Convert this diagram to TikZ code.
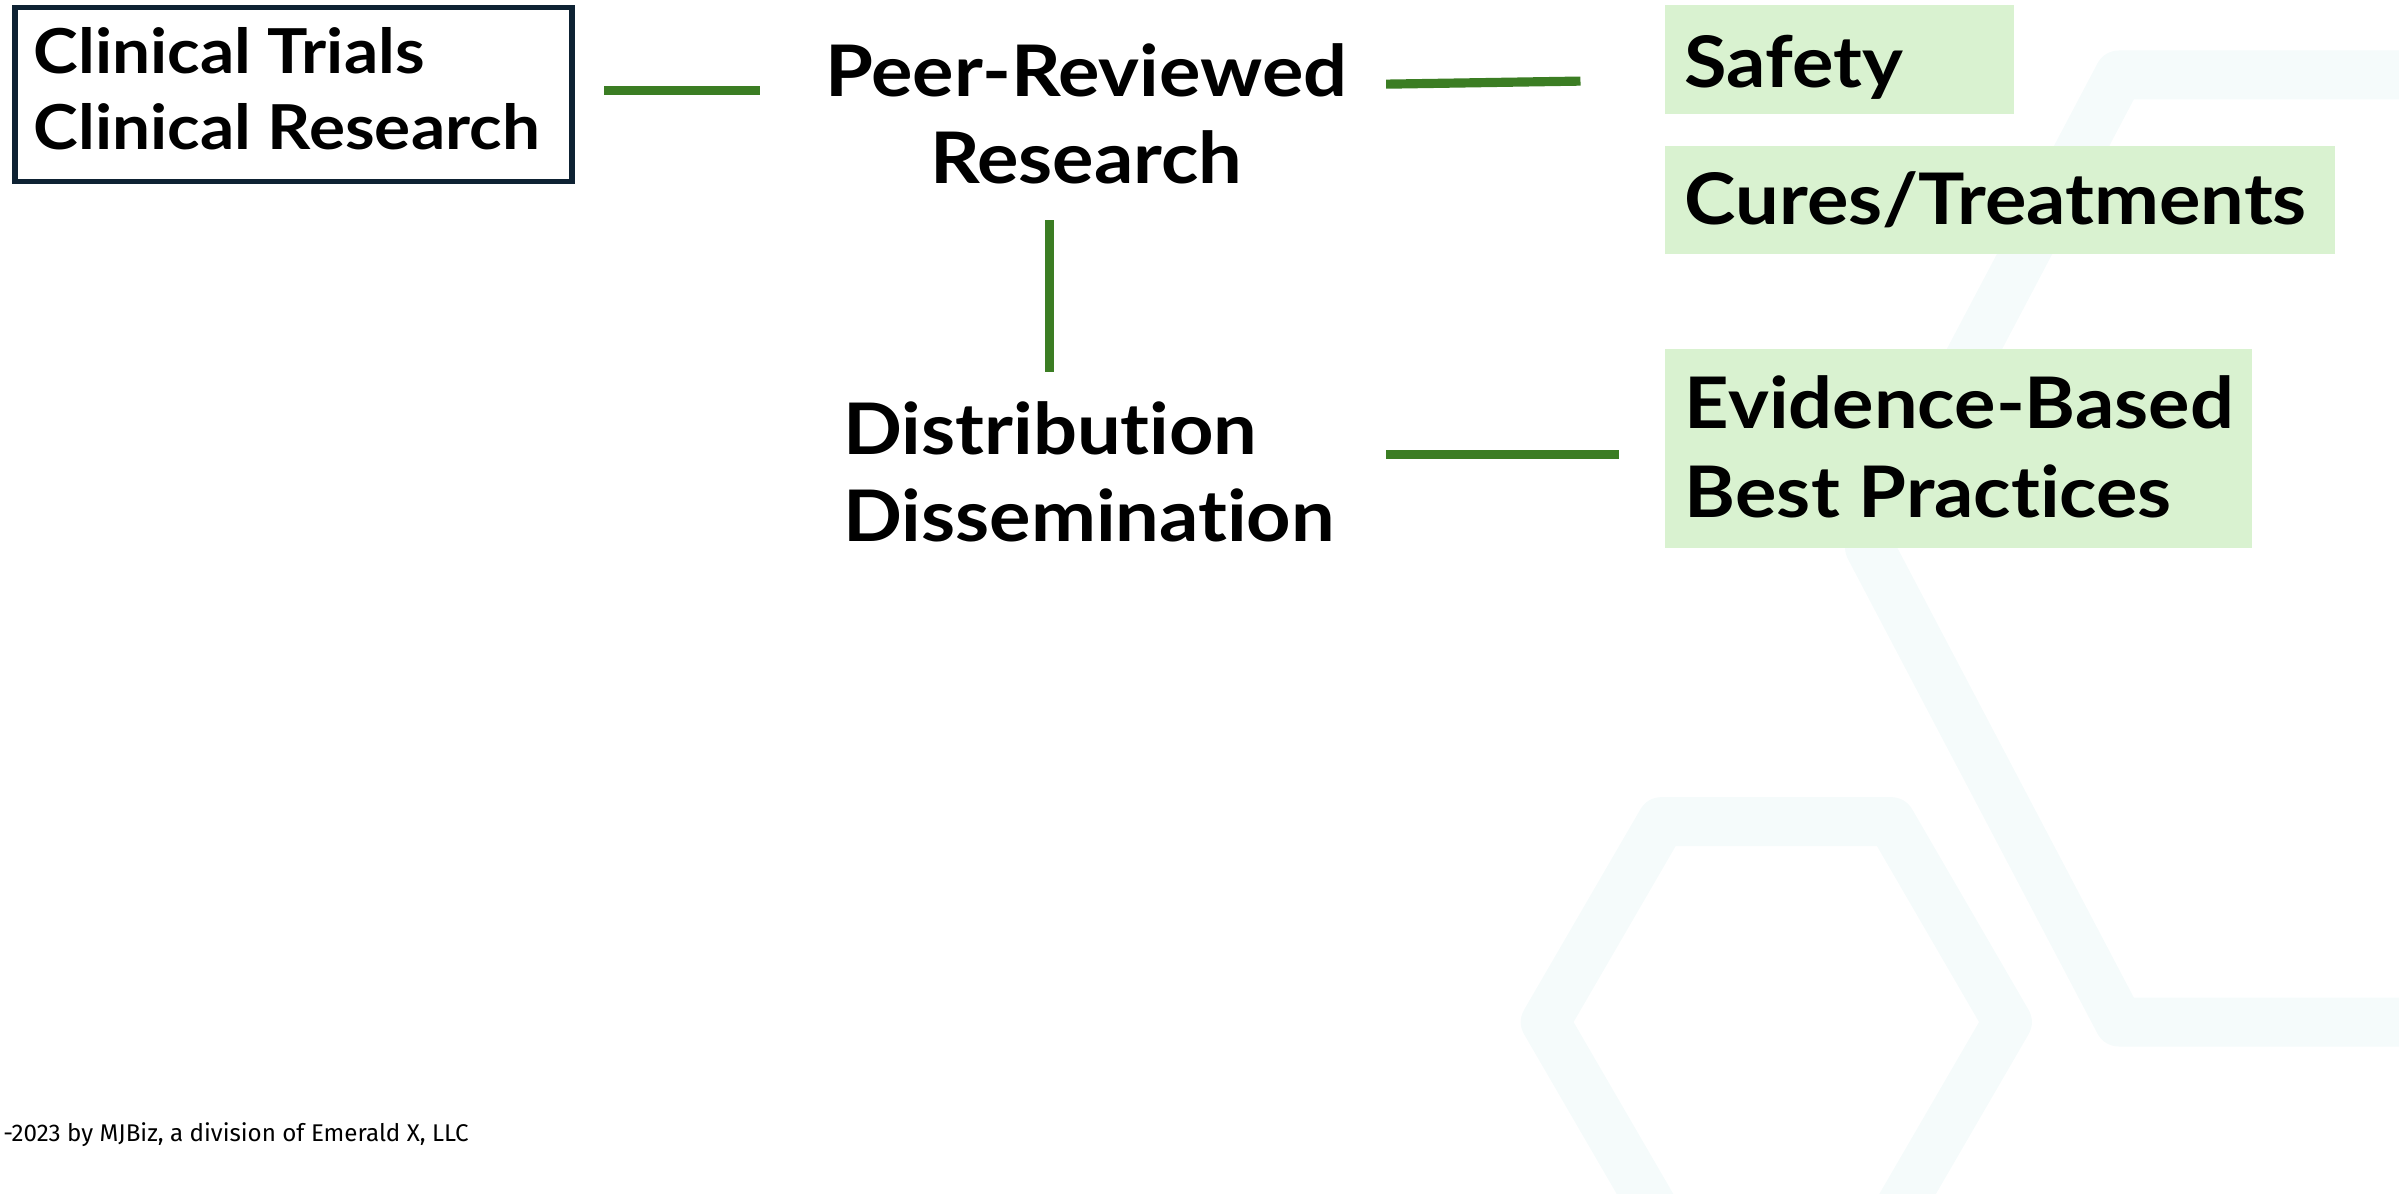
\documentclass[tikz,border=0pt]{standalone}
\usepackage{fontspec}
\setmainfont{Lato}[Ligatures=NoCommon, FakeStretch=1.09]
\newfontfamily\footfont{Fira Sans}
\definecolor{lgreen}{HTML}{D9F2D0}
\definecolor{dgreen}{HTML}{3B7D23}
\definecolor{navy}{HTML}{0E2233}
\definecolor{hexc}{HTML}{F5FBFB}
\begin{document}
\begin{tikzpicture}[x=1pt,y=-1pt,
  bigtxt/.style={font=\bfseries\fontsize{46.5}{46.5}\selectfont, inner sep=0pt, anchor=base west},
  midtxt/.style={font=\bfseries\fontsize{40.5}{40.5}\selectfont, inner sep=0pt, anchor=base west},
  greenbox/.style={fill=lgreen, draw=none, inner sep=0pt, anchor=north west},
  conn/.style={draw=dgreen, line width=6pt},
  hexline/.style={draw=hexc, line width=32pt, line join=round}]
\useasboundingbox (0,0) rectangle (1568,780);
% background hexagons
\begin{scope}
\clip (0,0) rectangle (1568,780);
\draw[hexline] (1312,668) -- (1236,537) -- (1086,537) -- (1010,668) -- (1086,799) -- (1236,799) -- cycle;
\draw[hexline] (1700,49) -- (1385,49) -- (1222,358) -- (1385,668) -- (1700,668);
\end{scope}
% box 1
\node[draw=navy, line width=3.5pt, inner sep=0pt, anchor=north west, minimum width=364pt, minimum height=114pt] (box1) at (8,3) {};
\node[midtxt] (t1a) at (22,48) {Clinical Trials};
\node[midtxt] (t1b) at (22,98) {Clinical Research};
% center texts
\node[bigtxt, anchor=base] (peer1) at (710,63) {Peer-Reviewed};
\node[bigtxt, anchor=base] (peer2) at (710,120) {Research};
\node[bigtxt] (dist1) at (551,297) {Distribution};
\node[bigtxt] (dist2) at (551,354) {Dissemination};
% green boxes
\node[greenbox, minimum width=228pt, minimum height=71pt] (safe) at (1088,3) {};
\node[bigtxt] (safet) at (1101,57) {Safety};
\node[greenbox, minimum width=438pt, minimum height=71pt] (cure) at (1088,95) {};
\node[bigtxt] (curet) at (1101,147) {Cures/Treatments};
\node[greenbox, minimum width=384pt, minimum height=130pt] (evid) at (1088,228) {};
\node[bigtxt] (evid1) at (1101,280) {Evidence-Based};
\node[bigtxt] (evid2) at (1101,338) {Best Practices};
% connectors
\coordinate (c1a) at (395,59);
\coordinate (c1b) at (497,59);
\coordinate (c2a) at (906,55);
\coordinate (c2b) at (1033,53);
\coordinate (c3a) at (686,144);
\coordinate (c3b) at (686,243);
\coordinate (c4a) at (906,297);
\coordinate (c4b) at (1058,297);
\draw[conn] (c1a) -- (c1b);
\draw[conn] (c2a) -- (c2b);
\draw[conn] (c3a) -- (c3b);
\draw[conn] (c4a) -- (c4b);
% footer
\node[font=\footfont\fontsize{15.8}{15.8}\selectfont, inner sep=0pt, anchor=base west] (foot) at (2,746) {-2023 by MJBiz, a division of Emerald X, LLC};
\end{tikzpicture}
\end{document}
